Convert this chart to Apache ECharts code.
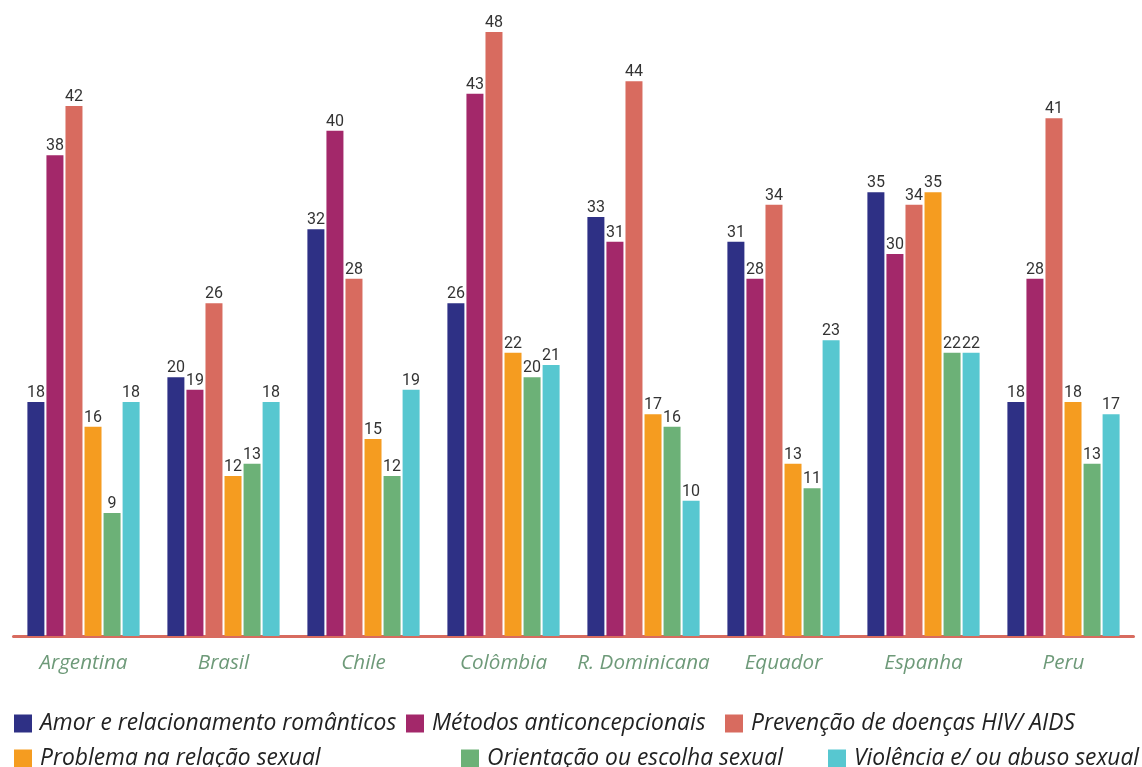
<!DOCTYPE html>
<html><head><meta charset="utf-8">
<script src="https://cdn.jsdelivr.net/npm/echarts@6/dist/echarts.min.js"></script>
<style>html,body{margin:0;padding:0;background:#fff}#c{width:1142px;height:767px}</style>
</head><body><div id="c"></div>
<script>
const categories = ['Argentina','Brasil','Chile','Colômbia','R. Dominicana','Equador','Espanha','Peru'];
const seriesNames = ['Amor e relacionamento românticos','Métodos anticoncepcionais','Prevenção de doenças HIV/ AIDS','Problema na relação sexual','Orientação ou escolha sexual','Violência e/ ou abuso sexual'];
const amor       = [18, 20, 32, 26, 33, 31, 35, 18];
const metodos    = [38, 19, 40, 43, 31, 28, 30, 28];
const prevencao  = [42, 26, 28, 48, 44, 34, 34, 41];
const problema   = [16, 12, 15, 22, 17, 13, 35, 18];
const orientacao = [9, 13, 12, 20, 16, 11, 22, 13];
const violencia  = [18, 18, 19, 21, 10, 23, 22, 17];
const values = [amor, metodos, prevencao, problema, orientacao, violencia];
const colors = ['#2e3085','#a3286a','#d86b5f','#f59c20','#6cb177','#57c7d0'];

// bars in the reference rise from slightly below the zero level (base plinth)
const BASE = 0.973;

const series = [];
values.forEach((vals, i) => {
  series.push({
    type: 'bar', name: '_base' + i, stack: 's' + i, silent: true,
    data: categories.map(() => BASE),
    itemStyle: { color: colors[i] }, barWidth: 17, barGap: '12%',
    label: { show: false }, emphasis: { disabled: true }
  });
  series.push({
    type: 'bar', name: seriesNames[i], stack: 's' + i,
    data: vals,
    itemStyle: { color: colors[i] }, barWidth: 17, barGap: '12%',
    label: {
      show: true, position: 'top', distance: 1,
      fontFamily: 'Liberation Sans Narrow, Roboto, sans-serif',
      fontSize: 16, color: '#333',
      formatter: p => p.value
    }
  });
});

const legendPos = [
  { left: 14, top: 712 }, { left: 406, top: 712 }, { left: 725, top: 712 },
  { left: 14, top: 747 }, { left: 461, top: 747 }, { left: 828, top: 747 }
];
const legends = seriesNames.map((n, i) => ({
  data: [n], left: legendPos[i].left, top: legendPos[i].top,
  orient: 'horizontal', itemWidth: 18, itemHeight: 18, icon: 'rect',
  padding: 0,
  textStyle: { fontFamily: 'Open Sans, Noto Sans, sans-serif', fontStyle: 'italic',
    fontSize: 22.8, color: '#222', padding: [0, 0, 0, 3] }
}));

const chart = echarts.init(document.getElementById('c'), null, { renderer: 'canvas' });
chart.setOption({
  animation: false,
  color: colors,
  grid: { left: 13.5, right: 8.5, top: 19.33, bottom: 131, containLabel: false },
  legend: legends,
  xAxis: {
    type: 'category', data: categories, offset: 2,
    axisLine: { show: true, lineStyle: { color: '#d86b5f', width: 3 } },
    axisTick: { show: false },
    axisLabel: { margin: 15, fontFamily: 'Open Sans, Noto Sans, sans-serif', fontStyle: 'italic',
      fontSize: 20.6, color: '#6e9a79', interval: 0 }
  },
  yAxis: { type: 'value', min: 0, max: 50, show: false, splitLine: { show: false } },
  series: series
});
</script></body></html>
